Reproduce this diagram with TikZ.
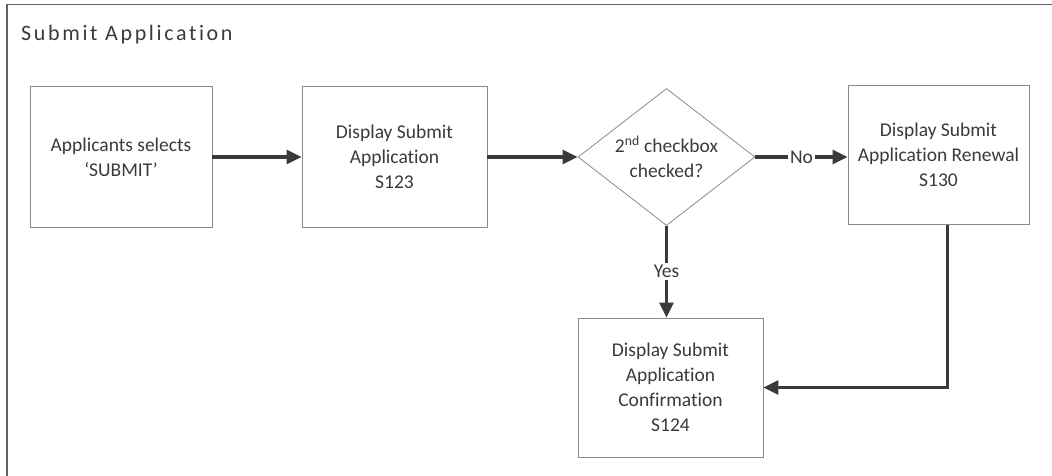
\documentclass[tikz,border=0pt]{standalone}
\usepackage{fontspec}
\setmainfont[Ligatures={NoCommon,NoDiscretionary}]{Carlito}
\newfontfamily\titlefont[LetterSpace=12,Ligatures={NoCommon,NoDiscretionary}]{Carlito}
\usetikzlibrary{arrows.meta,shapes.geometric}
\definecolor{ink}{HTML}{3A3A3A}
\definecolor{edge}{HTML}{8A8A8A}
\definecolor{wire}{HTML}{3A3A3A}
\tikzset{
  stepbox/.style={draw=edge, line width=0.9pt, align=center, text=ink,
    inner sep=2pt, font=\fontsize{19.5}{25}\selectfont},
  choice/.style={diamond, draw=edge, line width=0.8pt, align=center, text=ink,
    inner sep=0pt, aspect=1.29, font=\fontsize{19.5}{25}\selectfont},
  flow/.style={draw=wire, line width=3pt, -{Triangle[length=15pt,width=14pt]}},
  flowlabel/.style={fill=white, text=ink, inner sep=2pt,
    font=\fontsize{19.5}{25}\selectfont},
}
\begin{document}
\begin{tikzpicture}[x=1pt,y=-1pt]
\useasboundingbox (0,0) rectangle (1052,476);
% lane frame (top and left edges)
\draw[draw=wire!80, line width=1.6pt] (1052,4.5) -- (7,4.5) -- (7,476);
\node[anchor=west, text=ink, inner sep=0pt, font=\titlefont\fontsize{22}{26}\selectfont] (title) at (21,35) {Submit Application};

% steps
\node[stepbox, minimum width=182pt, minimum height=141pt] (select) at (121,157) {Applicants selects\\`SUBMIT'};
\node[stepbox, minimum width=185pt, minimum height=141pt] (s123) at (394.5,157) {Display Submit\\Application\\S123};
\node[choice, minimum width=177pt, minimum height=137pt] (check) at (666.5,157) {2\textsuperscript{nd} checkbox\\checked?};
\node[stepbox, minimum width=181pt, minimum height=139pt] (s130) at (938.5,155) {Display Submit\\Application Renewal\\S130};
\node[stepbox, minimum width=185pt, minimum height=139pt] (s124) at (670.5,387.5) {Display Submit\\Application\\Confirmation\\S124};

% connectors
\coordinate (renewout) at ([xshift=8.5pt]s130.south);
\draw[flow] (select.east) -- (s123.west);
\draw[flow] (s123.east) -- (check.west);
\draw[flow] (check.east) -- node[flowlabel] (no) {No} (check.east -| s130.west);
\draw[flow] (check.south) -- node[flowlabel] (yes) {Yes} (check.south |- s124.north);
\draw[flow] (renewout) |- (s124.east);
\end{tikzpicture}
\end{document}
